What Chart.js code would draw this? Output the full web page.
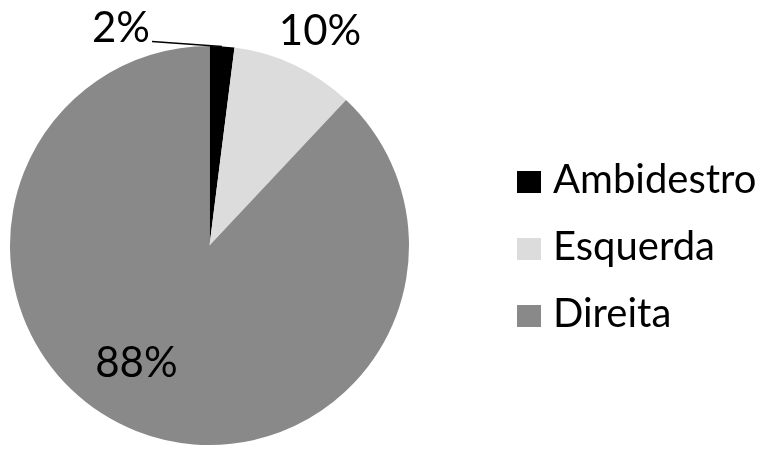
<!DOCTYPE html>
<html>
<head>
<meta charset="utf-8">
<script src="https://cdn.jsdelivr.net/npm/chart.js@4/dist/chart.umd.min.js"></script>
<style>
  html, body { margin: 0; padding: 0; background: #ffffff; }
  #wrap { width: 759px; height: 449px; }
</style>
</head>
<body>
<div id="wrap"><canvas id="c" width="759" height="449"></canvas></div>
<script>
// Lateralidade dos participantes
const categories = ['Ambidestro', 'Esquerda', 'Direita'];
const shares = [2, 10, 88];
const sliceColors = ['#000000', '#dcdcdc', '#898989'];

const FONT = "Lato, 'Open Sans', sans-serif";

// Percentage labels: small slices get an outside label, large ones inside
const percentLabels = {
  id: 'percentLabels',
  afterDatasetsDraw(chart) {
    const ctx = chart.ctx;
    const meta = chart.getDatasetMeta(0);
    ctx.save();
    ctx.font = '42px ' + FONT;
    ctx.fillStyle = '#000';
    ctx.textBaseline = 'alphabetic';
    meta.data.forEach((arc, i) => {
      const text = shares[i] + '%';
      const mid = (arc.startAngle + arc.endAngle) / 2;
      const r = arc.outerRadius;
      const cx = arc.x, cy = arc.y;
      if (i === 0) {
        const ex = cx + Math.cos(mid) * r, ey = cy + Math.sin(mid) * r;
        ctx.strokeStyle = '#000';
        ctx.lineWidth = 1.5;
        ctx.beginPath();
        ctx.moveTo(ex, ey);
        ctx.lineTo(ex - 70, ey - 5);
        ctx.stroke();
        ctx.textAlign = 'right';
        ctx.fillText(text, ex - 72, ey - 4);
      } else if (i === 1) {
        const ex = cx + Math.cos(mid) * (r + 20), ey = cy + Math.sin(mid) * (r + 20);
        ctx.textAlign = 'center';
        ctx.fillText(text, ex + 17, ey - 2);
      } else {
        ctx.textAlign = 'center';
        ctx.fillText(text, cx + Math.cos(mid) * r * 0.6 - 29, cy + Math.sin(mid) * r * 0.6 + 20);
      }
    });
    ctx.restore();
  }
};

// Legend column on the right, drawn from the chart's labels and colours
const sideLegend = {
  id: 'sideLegend',
  afterDraw(chart) {
    const ctx = chart.ctx;
    const colors = chart.data.datasets[0].backgroundColor;
    ctx.save();
    ctx.font = '40px ' + FONT;
    ctx.textAlign = 'left';
    ctx.textBaseline = 'alphabetic';
    chart.data.labels.forEach((lab, i) => {
      const baseY = 193 + i * 67;
      ctx.fillStyle = colors[i];
      ctx.fillRect(517, baseY - 22, 24, 22);
      ctx.fillStyle = '#000';
      ctx.fillText(lab, 553, baseY);
    });
    ctx.restore();
  }
};

new Chart(document.getElementById('c'), {
  type: 'pie',
  data: {
    labels: categories,
    datasets: [{
      data: shares,
      backgroundColor: sliceColors,
      borderWidth: 0
    }]
  },
  options: {
    responsive: false,
    animation: false,
    layout: { padding: { left: 10, right: 350, top: 46, bottom: 4 } },
    plugins: {
      legend: { display: false },
      tooltip: { enabled: false }
    }
  },
  plugins: [percentLabels, sideLegend]
});
</script>
</body>
</html>
